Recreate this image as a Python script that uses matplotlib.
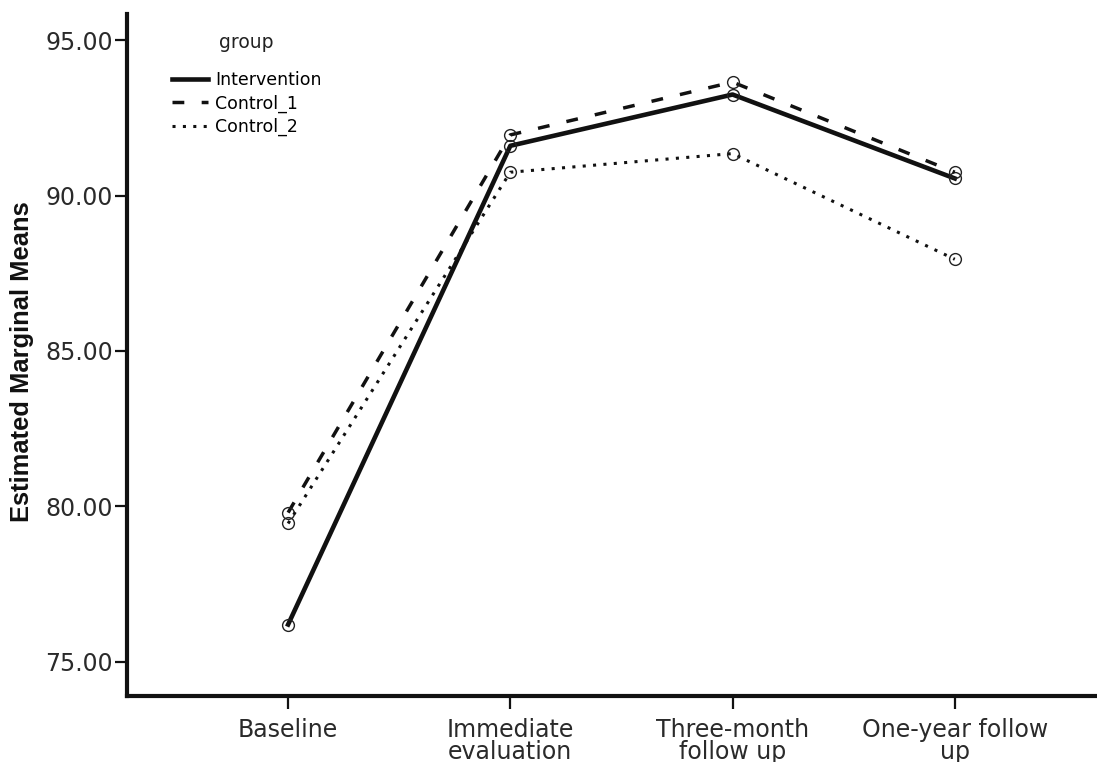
import matplotlib
matplotlib.use("Agg")
import matplotlib.pyplot as plt

plt.rcParams['font.family'] = ['DejaVu Sans']

timepoints = ["Baseline", "Immediate\nevaluation", "Three-month\nfollow up", "One-year follow\nup"]
intervention = [76.2, 91.6, 93.25, 90.55]
control_1 = [79.8, 91.95, 93.65, 90.75]
control_2 = [79.45, 90.75, 91.35, 87.95]
yticks = [75, 80, 85, 90, 95]

x = list(range(1, len(timepoints) + 1))
W, H = 1097, 762

fig = plt.figure(figsize=(W / 100, H / 100), dpi=100)
ax = fig.add_axes([127 / W, 1 - 696 / H, 1 - 127 / W, (696 - 14) / H])

ax.plot(x, intervention, color='#111111', lw=3.3, ls='-', label='Intervention',
        marker='o', ms=8.5, mfc='none', mec='#222222', mew=1.0)
ax.plot(x, control_1, color='#111111', lw=2.5, ls=(0, (3.4, 5.0)), label='Control_1',
        marker='o', ms=8.5, mfc='none', mec='#222222', mew=1.0)
ax.plot(x, control_2, color='#111111', lw=2.2, ls=(0, (1, 2.4)), label='Control_2',
        marker='o', ms=8.5, mfc='none', mec='#222222', mew=1.0)

ax.set_xlim(0.275, 4.64)
ax.set_ylim(73.9, 95.84)
ax.set_xticks(x)
ax.set_xticklabels(timepoints, fontsize=17, linespacing=0.9, color='#2a2a2a')
ax.set_yticks(yticks)
ax.set_yticklabels(["{:.2f}".format(v) for v in yticks], fontsize=17, color='#2a2a2a')
ax.tick_params(axis='both', direction='out', length=9, width=1.6, color='#111111')
ax.tick_params(axis='y', pad=1)
ax.tick_params(axis='x', pad=7)

for side in ['top', 'right']:
    ax.spines[side].set_visible(False)
for side in ['left', 'bottom']:
    ax.spines[side].set_linewidth(3.0)
    ax.spines[side].set_color('#111111')

ax.set_ylabel("Estimated Marginal Means", fontsize=18.4, fontweight='bold',
              family='Liberation Sans', color='#111111')
ax.yaxis.set_label_coords(34 / W, 1 - 362 / H, transform=fig.transFigure)

leg = ax.legend(loc='upper left', bbox_to_anchor=(172 / W, 1 - 71 / H),
                bbox_transform=fig.transFigure, frameon=False,
                fontsize=12.5, handlelength=2.07, handletextpad=0.4,
                labelspacing=0.31, borderpad=0, borderaxespad=0)
for h in leg.legend_handles:
    h.set_marker('')
fig.text(246 / W, 1 - 42 / H, "group", fontsize=13.5, ha='center', va='center',
         color='#222222')

fig.savefig("out.png", dpi=100)
